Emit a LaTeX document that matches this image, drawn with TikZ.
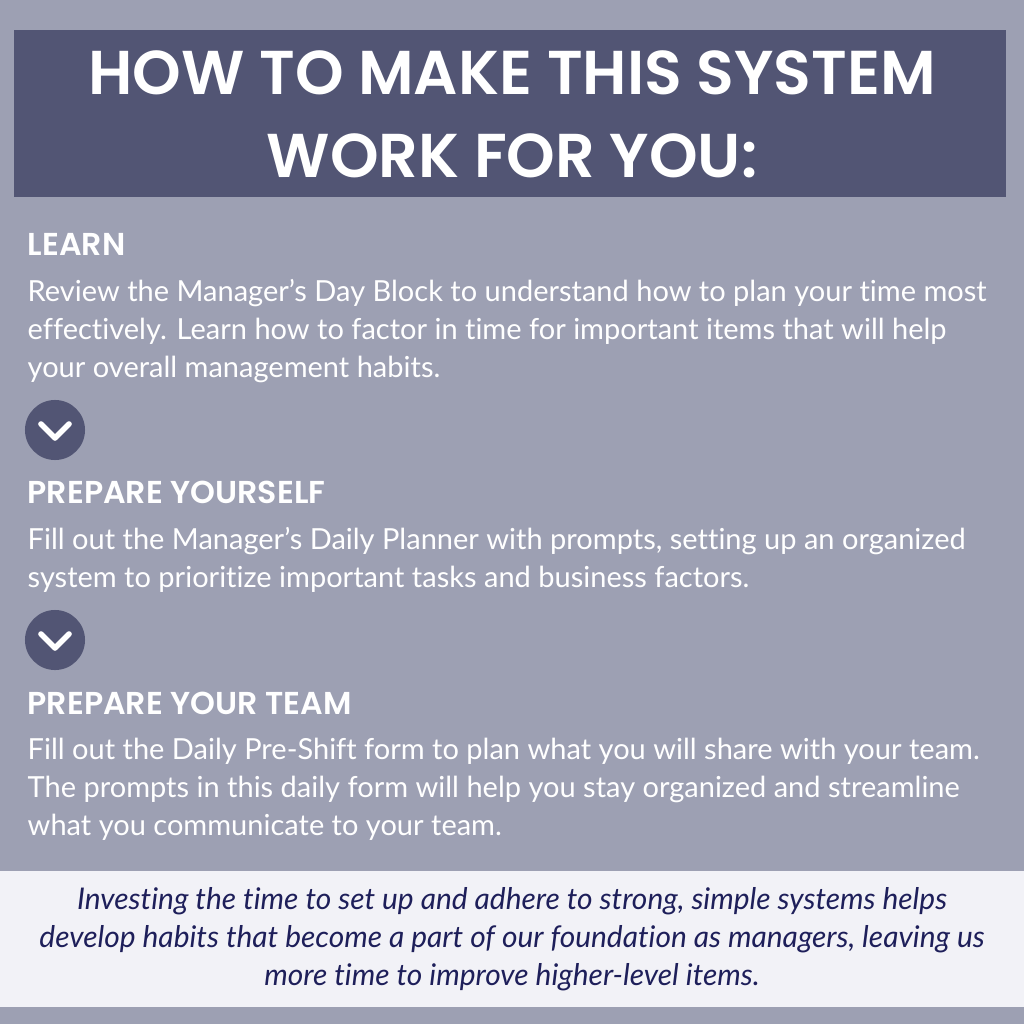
\documentclass[tikz,border=0pt]{standalone}
\usepackage{fontspec}
\setmainfont{Lato}[Ligatures=NoCommon]
\newfontfamily\headfont{Poppins}[BoldFont={Poppins SemiBold}]
\usetikzlibrary{positioning}
\definecolor{bgcol}{HTML}{9DA0B3}
\definecolor{darkbox}{HTML}{525574}
\definecolor{lightbox}{HTML}{F2F2F7}
\definecolor{navy}{HTML}{1E1F5A}
\begin{document}
\begin{tikzpicture}[x=0.01cm, y=-0.01cm,
    title/.style={font=\headfont\bfseries\fontsize{17.6}{23.6}\selectfont, text=white, align=center},
    heading/.style={anchor=west, font=\headfont\bfseries\fontsize{9}{11}\selectfont, text=white, inner sep=0pt},
    bodytext/.style={anchor=north west, font=\fontsize{8.25}{10.8}\selectfont, text=white, align=left, inner sep=0pt},
    stepcircle/.style={circle, fill=darkbox, minimum size=0.6cm, inner sep=0pt},
    chevron/.style={white, line width=1.6pt, line cap=round, line join=round}
]
% background and boxes
\fill[bgcol] (0,0) rectangle (1024,1024);
\fill[darkbox] (14,30) rectangle (1006,197);
\fill[lightbox] (0,871) rectangle (1024,1007);

% title
\node[title] (head) at (512,114) {HOW TO MAKE THIS SYSTEM\\WORK FOR YOU:};

% Learn
\node[heading] (learn) at (27,244) {LEARN};
\node[bodytext] (learntxt) at (27,279) {Review the Manager’s Day Block to understand how to plan your time most\\effectively. Learn how to factor in time for important items that will help\\your overall management habits.};

% first step marker
\node[stepcircle] (c1) at (55,430) {};
\draw[chevron] ([shift={(-14,-6)}]c1.center) -- ([shift={(0,8)}]c1.center) -- ([shift={(14,-6)}]c1.center);

% Prepare yourself
\node[heading] (self) at (27,492) {PREPARE YOURSELF};
\node[bodytext] (selftxt) at (27,527) {Fill out the Manager’s Daily Planner with prompts, setting up an organized\\system to prioritize important tasks and business factors.};

% second step marker
\node[stepcircle] (c2) at (55,640) {};
\draw[chevron] ([shift={(-14,-6)}]c2.center) -- ([shift={(0,8)}]c2.center) -- ([shift={(14,-6)}]c2.center);

% Prepare your team
\node[heading] (team) at (27,703) {PREPARE YOUR TEAM};
\node[bodytext] (teamtxt) at (27,737) {Fill out the Daily Pre-Shift form to plan what you will share with your team.\\The prompts in this daily form will help you stay organized and streamline\\what you communicate to your team.};

% closing note
\node[font=\itshape\fontsize{8.5}{10.8}\selectfont, text=navy, align=center] (note) at (512,939) {Investing the time to set up and adhere to strong, simple systems helps\\develop habits that become a part of our foundation as managers, leaving us\\more time to improve higher-level items.};
\end{tikzpicture}
\end{document}
